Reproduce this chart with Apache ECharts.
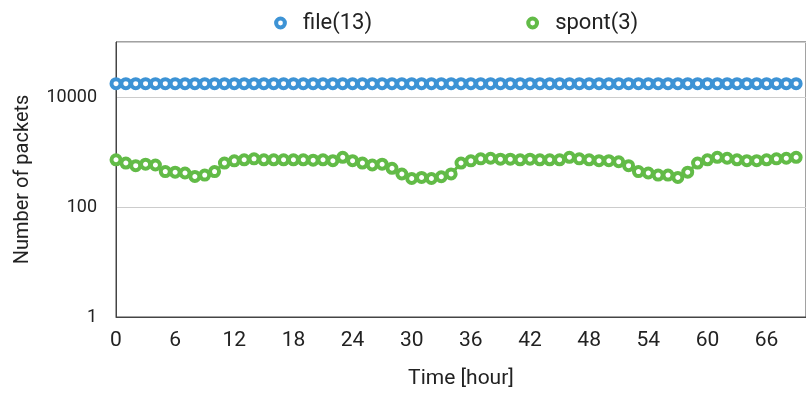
<!DOCTYPE html>
<html><head><meta charset="utf-8">
<script src="https://cdn.jsdelivr.net/npm/echarts@6/dist/echarts.min.js"></script>
<style>html,body{margin:0;padding:0;background:#fff}#c{width:806px;height:397px}</style>
</head><body><div id="c"></div>
<script>
var hours = [];
for (var i = 0; i <= 69; i++) hours.push(i);
var fileVals = [17500,17500,17500,17500,17500,17500,17500,17500,17500,17500,17500,17500,17500,17500,17500,17500,17500,17500,17500,17500,17500,17500,17500,17500,17500,17500,17500,17500,17500,17500,17500,17500,17500,17500,17500,17500,17500,17500,17500,17500,17500,17500,17500,17500,17500,17500,17500,17500,17500,17500,17500,17500,17500,17500,17500,17500,17500,17500,17500,17500,17500,17500,17500,17500,17500,17500,17500,17500,17500,17500];
var spontVals = [720,630,565,600,580,440,430,415,360,380,440,630,690,720,750,720,720,720,720,720,710,720,695,800,695,630,580,600,505,398,330,345,330,355,400,630,690,750,770,740,740,720,740,720,720,720,800,750,720,695,695,665,565,440,415,380,380,345,430,630,720,800,770,720,695,695,720,750,770,800];
var seriesNames = ['file(13)', 'spont(3)'];
var colors = ['#3d93d5', '#62bb47'];

function pair(arr) { return arr.map(function (v, i) { return [hours[i], v]; }); }

var chart = echarts.init(document.getElementById('c'), null, {renderer: 'canvas'});
var font = 'Roboto';
chart.setOption({
  animation: false,
  textStyle: {fontFamily: font},
  legend: {
    top: 7, left: 269, itemGap: 154, itemWidth: 11, itemHeight: 11,
    itemStyle: {borderWidth: 4},
    textStyle: {fontSize: 22, color: '#222', fontFamily: font, padding: [0, 0, 0, 12]},
    data: seriesNames
  },
  grid: {left: 116, right: -10, top: 42, bottom: 80, show: true, borderColor: '#444', borderWidth: 1},
  xAxis: {
    type: 'value', min: 0, max: 70, interval: 6,
    name: 'Time [hour]', nameLocation: 'middle', nameGap: 51,
    nameTextStyle: {fontSize: 21, color: '#222'},
    axisLine: {show: true, lineStyle: {color: '#444'}},
    axisTick: {show: false},
    axisLabel: {fontSize: 21, color: '#222', margin: 13, showMaxLabel: false},
    splitLine: {show: false}
  },
  yAxis: {
    type: 'log', min: 1, max: 100000, interval: 2, logBase: 10,
    name: 'Number of packets', nameLocation: 'middle', nameGap: 83,
    nameTextStyle: {fontSize: 20, color: '#222'},
    axisLine: {show: true, lineStyle: {color: '#444'}},
    axisTick: {show: false},
    axisLabel: {fontSize: 18, color: '#222', margin: 19, showMaxLabel: false,
      formatter: function (v) { return String(Math.round(v)); }},
    splitLine: {show: true, lineStyle: {color: '#ccc', width: 1}}
  },
  series: [
    {name: seriesNames[0], type: 'line', data: pair(fileVals), symbol: 'circle', symbolSize: 9,
     lineStyle: {color: colors[0], width: 3},
     itemStyle: {color: '#fff', borderColor: colors[0], borderWidth: 4}},
    {name: seriesNames[1], type: 'line', data: pair(spontVals), symbol: 'circle', symbolSize: 9,
     lineStyle: {color: colors[1], width: 3},
     itemStyle: {color: '#fff', borderColor: colors[1], borderWidth: 4}}
  ]
});
</script></body></html>
